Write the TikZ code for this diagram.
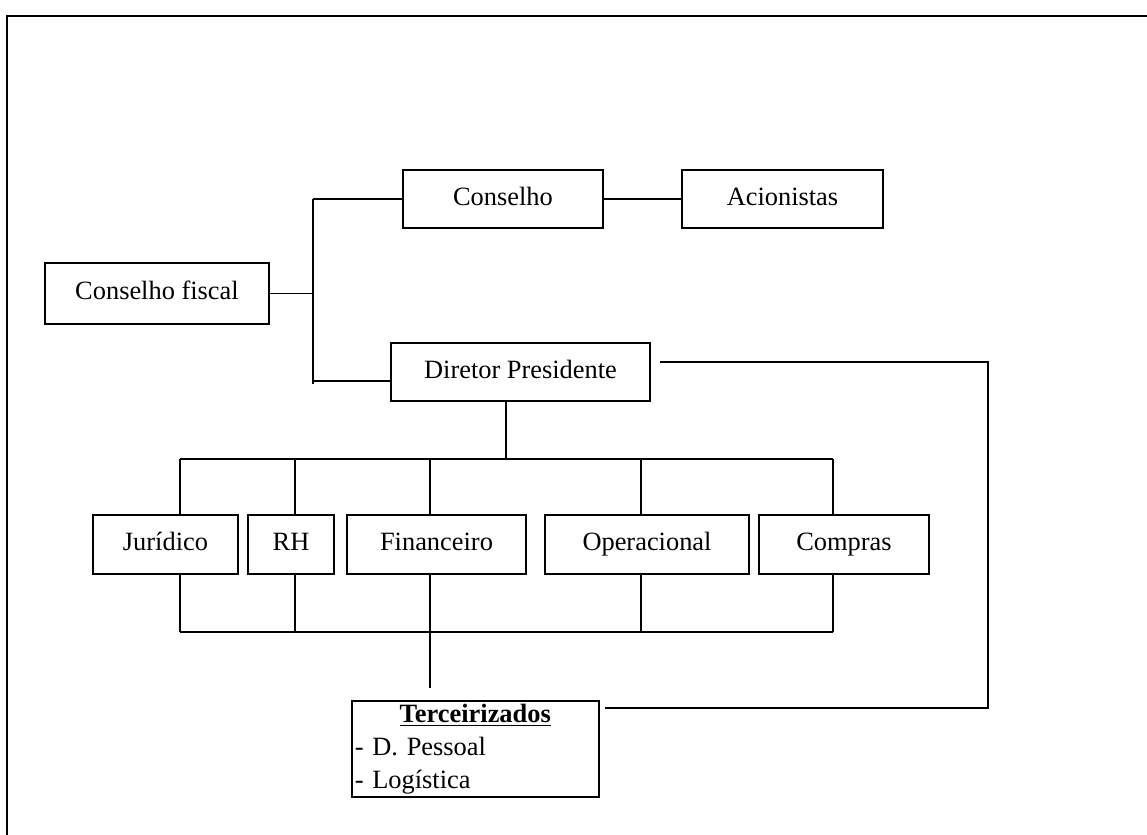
\documentclass[tikz,border=0pt]{standalone}
\usepackage{fontspec}
\setmainfont{Liberation Serif}
\frenchspacing
\tikzset{
  box/.style={draw, line width=0.75pt, inner sep=0pt, minimum height=29pt, text height=9pt, text depth=3pt, font=\fontsize{13.2}{16.5}\selectfont},
  wire/.style={line width=0.75pt}
}
\begin{document}
\begin{tikzpicture}[x=0.5pt, y=-0.5pt, line join=miter]
    \useasboundingbox (0,0) rectangle (1147,835);
    % open frame (top and left only)
    \draw[line width=1.1pt] (7,835) -- (7,16) -- (1147,16);

    \node[box, minimum width=112pt, minimum height=30.5pt] (fiscal) at (157,293.5) {Conselho fiscal};
    \node[box, minimum width=100pt] (conselho) at (503,199) {Conselho};
    \node[box, minimum width=100.5pt] (acion) at (782.5,199) {Acionistas};
    \node[box, minimum width=129.5pt] (diretor) at (520.5,372) {Diretor Presidente};

    \node[box, minimum width=72.5pt, minimum height=29.5pt] (jur) at (165.5,544.5) {Jurídico};
    \node[box, minimum width=43pt, minimum height=29.5pt] (rh) at (291,544.5) {RH};
    \node[box, minimum width=89.5pt, minimum height=29.5pt] (fin) at (436.5,544.5) {Financeiro};
    \node[box, minimum width=102pt, minimum height=29.5pt] (oper) at (647,544.5) {Operacional};
    \node[box, minimum width=85pt, minimum height=29.5pt] (compras) at (844,544.5) {Compras};

    \node[box, anchor=north west, text width=120.5pt, text height=, text depth=, inner sep=1.5pt, align=left] (terc) at (351,700)
        {\makebox[\linewidth][c]{\textbf{\underline{Terceirizados}}}\\- D. Pessoal\\- Logística};

    \coordinate (busT) at (313,199);
    \coordinate (busD) at (313,381);
    \coordinate (busB) at (313,384);
    \coordinate (tree) at (506,459);

    \draw[wire] (busT) -- (busB);
    \draw[wire] (fiscal.east) -- (fiscal.east -| busT);
    \draw[wire] (busT) -- (conselho.west);
    \draw[wire] (busD) -- (busD -| diretor.west);
    \draw[wire] (conselho.east) -- (acion.west);

    % loop from diretor down to terceirizados
    \coordinate (dirR) at ([shift={(9,-10)}]diretor.east);
    \coordinate (tercR) at ([shift={(5,8)}]terc.north east);
    \draw[wire] (dirR) -- ++(328,0) |- (tercR);

    \draw[wire] (diretor.south -| tree) -- (tree);
    \draw[wire] (180,459) -- (833,459);
    \foreach \n/\x in {jur/180, rh/295, fin/430, oper/641, compras/833}
        \draw[wire] (\x,459) -- (\n.north -| \x,0);
    \foreach \n/\x in {jur/180, rh/295, oper/641, compras/833}
        \draw[wire] (\n.south -| \x,0) -- (\x,632);
    \draw[wire] (180,632) -- (833,632);
    \draw[wire] (fin.south -| 430,0) -- (430,688);
\end{tikzpicture}
\end{document}
